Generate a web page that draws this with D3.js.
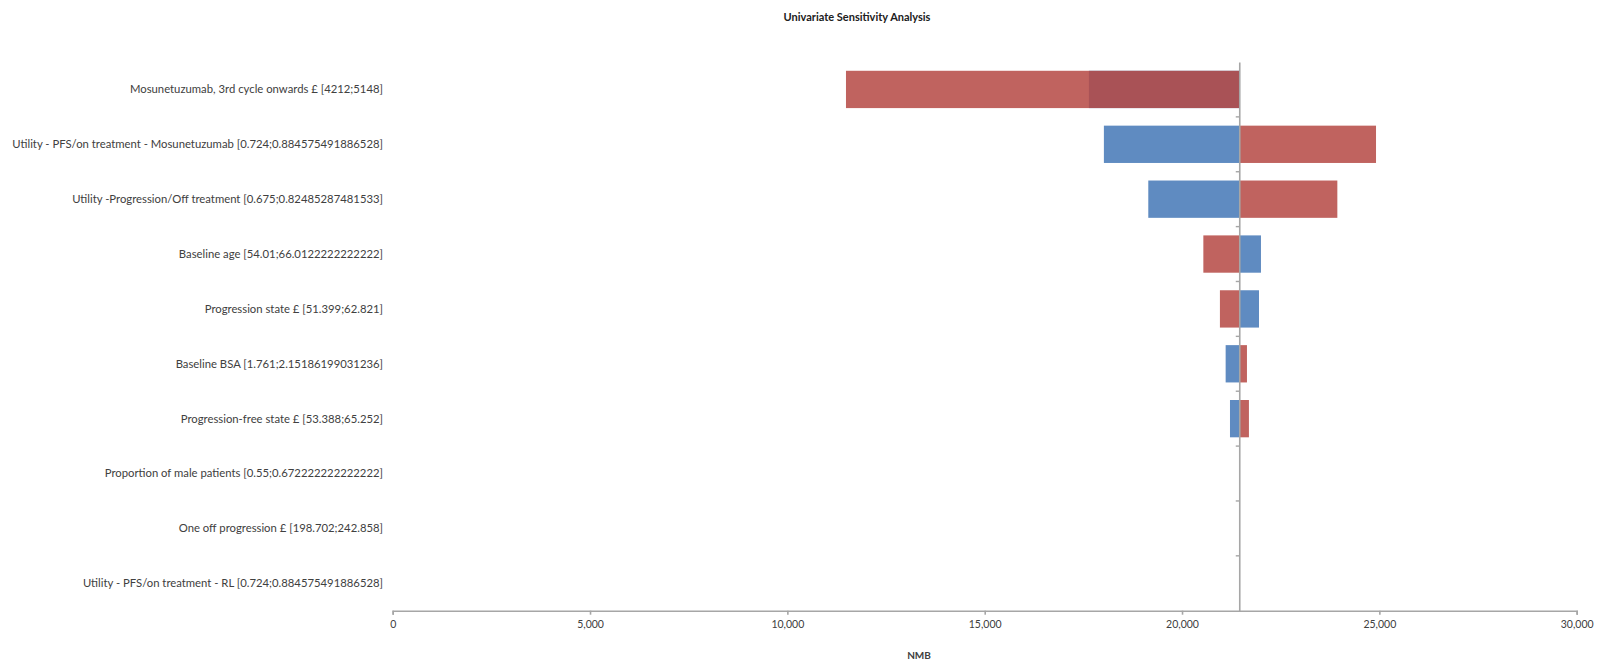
<!DOCTYPE html>
<html>
<head>
<meta charset="utf-8">
<script src="https://cdn.jsdelivr.net/npm/d3@7"></script>
<style>
  html, body { margin: 0; padding: 0; background: #fff; }
  svg { display: block; }
  text { font-family: Lato, "Open Sans", sans-serif; fill: #404040; }
</style>
</head>
<body>
<svg id="chart" width="1597" height="664"></svg>
<script>
const title = "Univariate Sensitivity Analysis";
const xTitle = "NMB";
const categories = [
  "Mosunetuzumab, 3rd cycle onwards £ [4212;5148]",
  "Utility - PFS/on treatment - Mosunetuzumab [0.724;0.884575491886528]",
  "Utility -Progression/Off treatment [0.675;0.82485287481533]",
  "Baseline age [54.01;66.0122222222222]",
  "Progression state £ [51.399;62.821]",
  "Baseline BSA [1.761;2.15186199031236]",
  "Progression-free state £ [53.388;65.252]",
  "Proportion of male patients [0.55;0.672222222222222]",
  "One off progression £ [198.702;242.858]",
  "Utility - PFS/on treatment - RL [0.724;0.884575491886528]"
];
const baseValue = 21450;
const lowValues  = [17640, 18020, 19145, 22000, 21950, 21105, 21215, 21450, 21450, 21450]; // blue series
const highValues = [11485, 24915, 23935, 20540, 20960, 21645, 21695, 21450, 21450, 21450]; // red series
const xTicks = [0, 5000, 10000, 15000, 20000, 25000, 30000];

const svg = d3.select("#chart");
const x = d3.scaleLinear().domain([0, 30000]).range([392.7, 1576.7]);
const y = d3.scaleBand().domain(categories).range([62, 610.7]).paddingInner(0.32).paddingOuter(0.16);

const axisColor = "#a6a6a6";

// title
svg.append("text").attr("x", 857).attr("y", 21).attr("text-anchor", "middle")
  .style("font-weight", "bold").style("font-size", "11px").style("fill", "#202020").text(title);

// bars: blue first, red on top (semi-transparent so overlaps darken)
const rows = categories.map((c, i) => ({c, lo: lowValues[i], hi: highValues[i]}));
svg.append("g").selectAll("rect").data(rows).join("rect")
  .attr("x", d => x(Math.min(d.lo, baseValue)))
  .attr("width", d => Math.abs(x(d.lo) - x(baseValue)))
  .attr("y", d => y(d.c)).attr("height", y.bandwidth())
  .attr("fill", "#5f8bc1");
svg.append("g").selectAll("rect").data(rows).join("rect")
  .attr("x", d => x(Math.min(d.hi, baseValue)))
  .attr("width", d => Math.abs(x(d.hi) - x(baseValue)))
  .attr("y", d => y(d.c)).attr("height", y.bandwidth())
  .attr("fill", "#b54844").attr("fill-opacity", 0.855);

// x axis
const xAxis = d3.axisBottom(x).tickValues(xTicks).tickFormat(d3.format(",")).tickSize(4).tickSizeOuter(4);
const gx = svg.append("g").attr("transform", "translate(0,610.7)").call(xAxis);
gx.selectAll("path, line").attr("stroke", axisColor).attr("stroke-width", 1.6);
gx.selectAll("text").style("font-size", "10.5px").style("font-family", "Lato, sans-serif").attr("fill", "#404040").attr("dy", "0.95em");

// vertical category axis at base value
const yAxis = d3.axisLeft(y).tickSize(0).tickFormat("");
const gy = svg.append("g").attr("transform", `translate(${x(baseValue)},0)`).call(yAxis);
gy.select("path").attr("stroke", axisColor).attr("stroke-width", 1.6);
// ticks between categories
const bounds = categories.map(c => y(c) - y.step() * y.paddingInner() / 2 + 0);
svg.append("g").selectAll("line").data(categories.slice(1)).join("line")
  .attr("x1", x(baseValue) - 3.5).attr("x2", x(baseValue))
  .attr("y1", c => y(c) - (y.step() - y.bandwidth()) / 2)
  .attr("y2", c => y(c) - (y.step() - y.bandwidth()) / 2)
  .attr("stroke", axisColor).attr("stroke-width", 1.4);

// category labels
svg.append("g").selectAll("text").data(categories).join("text")
  .attr("x", 383).attr("y", c => y(c) + y.bandwidth() / 2)
  .attr("dy", "0.35em").attr("text-anchor", "end")
  .style("font-size", "11.3px").text(c => c);

// x title
svg.append("text").attr("x", 919).attr("y", 659).attr("text-anchor", "middle")
  .style("font-weight", "bold").style("font-size", "10px").text(xTitle);
</script>
</body>
</html>
